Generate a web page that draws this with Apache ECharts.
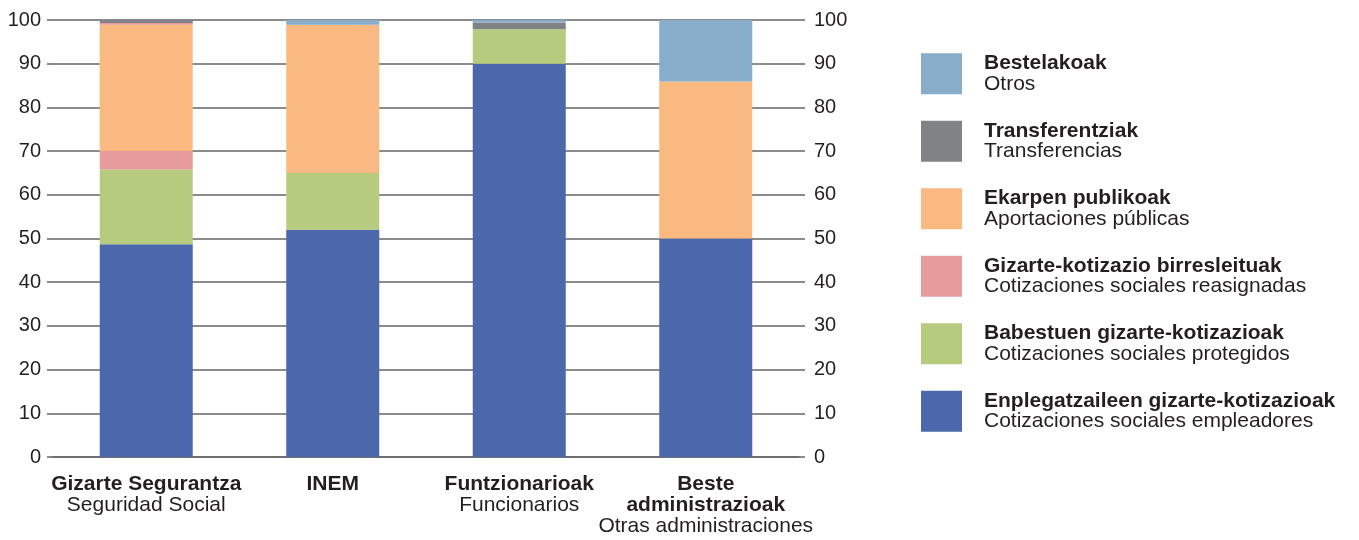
<!DOCTYPE html>
<html><head><meta charset="utf-8">
<script src="https://cdn.jsdelivr.net/npm/echarts@6/dist/echarts.min.js"></script>
<style>html,body{margin:0;padding:0;background:#fff}#c{width:1359px;height:540px}</style>
</head><body><div id="c"></div>
<script>
const categories = [
  ['Gizarte Segurantza', 'Seguridad Social'],
  ['INEM', ''],
  ['Funtzionarioak', 'Funcionarios'],
  ['Beste\nadministrazioak', 'Otras administraciones']
];
const seriesNames = [
  ['Enplegatzaileen gizarte-kotizazioak', 'Cotizaciones sociales empleadores'],
  ['Babestuen gizarte-kotizazioak', 'Cotizaciones sociales protegidos'],
  ['Gizarte-kotizazio birresleituak', 'Cotizaciones sociales reasignadas'],
  ['Ekarpen publikoak', 'Aportaciones públicas'],
  ['Transferentziak', 'Transferencias'],
  ['Bestelakoak', 'Otros']
];
const enplegatzaileen = [48.7, 52, 90, 50];
const babestuen       = [17.1, 13, 7.9, 0];
const birresleituak   = [4.2, 0, 0, 0];
const ekarpen         = [28.9, 33.9, 0, 35.9];
const birresleituak2  = [0.4, 0, 0, 0];
const transferentziak = [0.7, 0, 1.5, 0];
const bestelakoak     = [0, 1.1, 0.6, 14.1];
const yTicks = [0, 100, 10];

const colors = {
  blue: '#4a68ab', green: '#b6cb7e', pink: '#e69a9b',
  orange: '#f9b980', gray: '#818286', light: '#87adcb'
};
const FONT = "'Liberation Sans', Arial, Helvetica, sans-serif";
const TXT = '#231f20';
const LINE = '#666666';

const chart = echarts.init(document.getElementById('c'), null, {renderer: 'canvas'});
const catNames = categories.map(c => c[0]);
const labelMap = {};
categories.forEach(c => { labelMap[c[0]] = c; });
const nameMap = {};
seriesNames.forEach(s => { nameMap[s[0]] = s[1]; });

function bar(name, data, color) {
  return { name, type: 'bar', stack: 'a', data, barWidth: 93,
    itemStyle: { color }, emphasis: { disabled: true }, z: 3 };
}

chart.setOption({
  animation: false,
  textStyle: { fontFamily: FONT },
  grid: { left: 53, right: 560, top: 20, bottom: 83 },
  legend: {
    orient: 'vertical', left: 916, top: 48,
    itemWidth: 41, itemHeight: 41, itemGap: 26,
    icon: 'rect', selectedMode: false,
    data: seriesNames.map(s => s[0]).reverse(),
    formatter: n => '{b|' + n + '}\n{n|' + nameMap[n] + '}',
    textStyle: {
      padding: [0, 0, 0, 17],
      rich: {
        b: { fontFamily: FONT, fontWeight: 'bold', fontSize: 21, lineHeight: 20.5, color: TXT },
        n: { fontFamily: FONT, fontSize: 21, lineHeight: 20.5, color: TXT }
      }
    }
  },
  xAxis: {
    type: 'category', data: catNames,
    axisLine: { lineStyle: { color: LINE, width: 1.5 } },
    axisTick: { length: 6, lineStyle: { color: LINE, width: 1.5 } },
    axisLabel: {
      margin: 17, interval: 0,
      formatter: v => {
        const c = labelMap[v];
        const b = c[0].split('\n').map(s => '{b|' + s + '}').join('\n');
        return c[1] ? b + '\n{n|' + c[1] + '}' : b;
      },
      rich: {
        b: { fontFamily: FONT, fontWeight: 'bold', fontSize: 21, lineHeight: 21, color: TXT },
        n: { fontFamily: FONT, fontSize: 21, lineHeight: 21, color: TXT }
      }
    }
  },
  yAxis: [
    { type: 'value', min: yTicks[0], max: yTicks[1], interval: yTicks[2],
      axisLine: { show: false },
      axisTick: { show: true, length: 6, lineStyle: { color: LINE, width: 1.5 } },
      axisLabel: { margin: 12, fontSize: 20, color: TXT, fontFamily: FONT },
      splitLine: { show: true, lineStyle: { color: LINE, width: 1.5 } } },
    { type: 'value', position: 'right', min: yTicks[0], max: yTicks[1], interval: yTicks[2],
      axisLine: { show: false },
      axisTick: { show: true, length: 6, lineStyle: { color: LINE, width: 1.5 } },
      axisLabel: { margin: 15, fontSize: 20, color: TXT, fontFamily: FONT },
      splitLine: { show: false } }
  ],
  series: [
    bar(seriesNames[0][0], enplegatzaileen, colors.blue),
    bar(seriesNames[1][0], babestuen, colors.green),
    bar(seriesNames[2][0], birresleituak, colors.pink),
    bar(seriesNames[3][0], ekarpen, colors.orange),
    bar('birresleituak-2', birresleituak2, colors.pink),
    bar(seriesNames[4][0], transferentziak, colors.gray),
    bar(seriesNames[5][0], bestelakoak, colors.light)
  ]
});
</script></body></html>
